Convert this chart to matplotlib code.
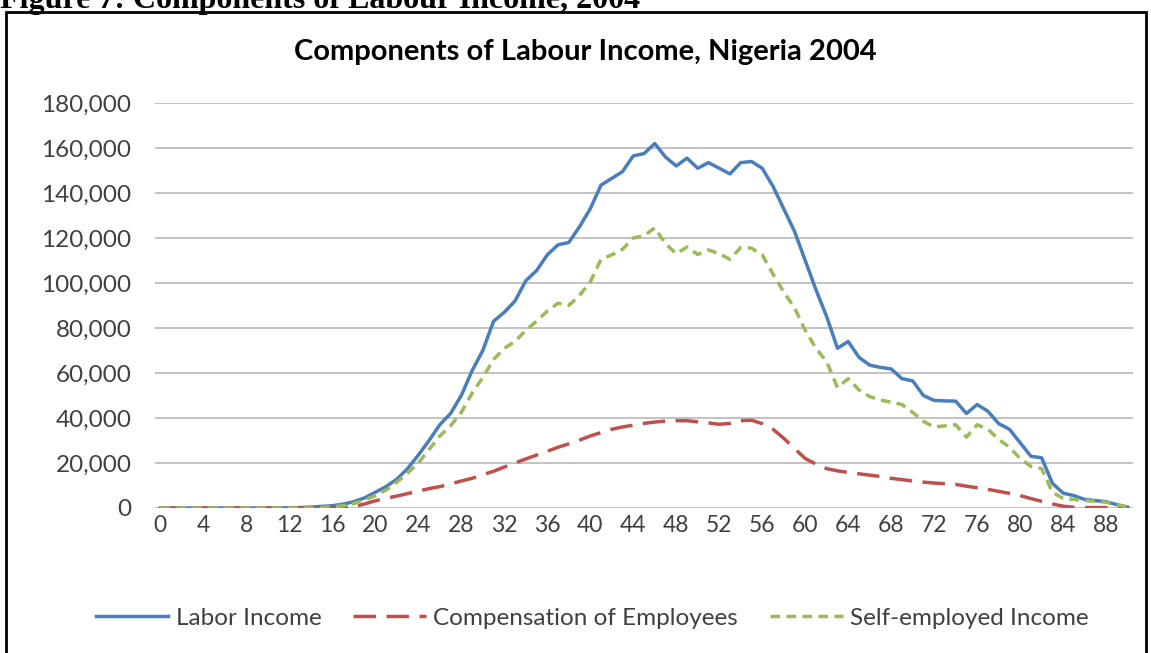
import matplotlib
matplotlib.use("Agg")
from matplotlib import pyplot as plt
from matplotlib.patches import Rectangle

# ages 0..90
ages = list(range(0, 91))

labor_income = [
    0, 0, 0, 0, 0, 0, 0, 0, 0, 0,
    0, 0, 100, 200, 400, 700, 1000, 1700, 2800, 4500,
    7000, 9500, 12800, 17500, 23500, 30000, 37000, 42000, 50000, 61000,
    70000, 83000, 87000, 92000, 101000, 105500, 112500, 117000, 118000, 125000,
    133000, 143500, 146500, 149500, 156500, 157500, 162000, 156000, 152000, 155500,
    151000, 153500, 151000, 148500, 153500, 154000, 151000, 143000, 133000, 123000,
    110000, 97000, 85000, 71000, 74000, 67000, 63500, 62500, 61800, 57500,
    56500, 50000, 47800, 47600, 47500, 42000, 46000, 43000, 37500, 35000,
    29000, 23000, 22300, 11000, 6600, 5500, 3800, 3300, 2800, 1500,
    400,
]

compensation = [
    0, 0, 0, 0, 0, 0, 0, 0, 0, 0,
    0, 0, 0, 0, 0, 0, 0, 100, 500, 1800,
    3200, 4300, 5300, 6400, 7500, 8600, 9500, 10700, 12000, 13200,
    14800, 16300, 18200, 20000, 21800, 23500, 25200, 27000, 28500, 30200,
    32000, 33500, 35000, 36000, 36800, 37600, 38200, 38600, 38800, 38800,
    38300, 37800, 37200, 37600, 38800, 39000, 37500, 35000, 31000, 26500,
    22000, 19500, 17500, 16500, 15800, 15200, 14600, 14000, 13200, 12600,
    12000, 11500, 11100, 10800, 10500, 9700, 9000, 8300, 7400, 6500,
    5500, 4200, 3000, 1800, 800, 300, 200, 200, 150, 100,
    50,
]

self_employed = [
    0, 0, 0, 0, 0, 0, 0, 0, 0, 0,
    0, 0, 0, 0, 0, 200, 500, 1000, 2000, 3500,
    5500, 8000, 11500, 15500, 20000, 26000, 32000, 36500, 42500, 51000,
    58000, 66000, 71000, 74000, 79000, 83000, 87500, 91000, 90000, 94500,
    100500, 110500, 112500, 115000, 120000, 121000, 124500, 117500, 113000, 116000,
    112700, 114700, 113000, 110500, 115800, 115500, 112500, 104000, 96000, 89000,
    79000, 71000, 65000, 53500, 57500, 52500, 49500, 48000, 47000, 46000,
    42500, 38500, 36000, 36500, 37000, 31500, 37000, 35000, 30500, 27000,
    22000, 18500, 17500, 7000, 4300, 3800, 3300, 3000, 2600, 1500,
    400,
]

tick_ages = list(range(0, 89, 4))
y_ticks = list(range(0, 180001, 20000))

chart_font = "Lato"
text_gray = "#404040"

fig = plt.figure(figsize=(11.51, 6.53), dpi=100)
fig.patch.set_facecolor("white")

# caption above the chart, cut off at the top edge as in the source
fig.text(0.0, 1 - 8 / 653, "Figure 7: Components of Labour Income, 2004",
         family="Liberation Serif", weight="bold", fontsize=23,
         ha="left", va="baseline")

# frame around the chart
fig.patches.append(Rectangle((6 / 1151, -0.05), 1140 / 1151, 1 - 12 / 653 + 0.05,
                             transform=fig.transFigure, fill=False,
                             edgecolor="black", linewidth=2))

ax = fig.add_axes([155 / 1151, 1 - 508 / 653, (1133 - 155) / 1151, (508 - 103) / 653])

ax.plot(ages, labor_income, color="#4A7EBB", linewidth=2.5, label="Labor Income")
ax.plot(ages, compensation, color="#C0504D", linewidth=2.5, dashes=(6.5, 3),
        label="Compensation of Employees")
ax.plot(ages, self_employed, color="#9BBB59", linewidth=2.5, dashes=(2.8, 1.8),
        label="Self-employed Income")

ax.set_xlim(-0.5, 90.5)
ax.set_ylim(0, 180000)
ax.set_yticks(y_ticks)
ax.set_yticklabels([f"{v:,}" for v in y_ticks])
ax.set_xticks(tick_ages)
ax.set_xticklabels([str(a) for a in tick_ages])
ax.tick_params(axis="both", length=0, labelcolor=text_gray)
ax.tick_params(axis="y", pad=17, labelsize=17.5)
ax.tick_params(axis="x", pad=5, labelsize=16.5)
for lbl in ax.get_xticklabels() + ax.get_yticklabels():
    lbl.set_family(chart_font)

for side in ["top", "right", "left", "bottom"]:
    ax.spines[side].set_visible(False)
ax.grid(axis="y", color="#BEBEBE", linewidth=1.3)
ax.set_axisbelow(True)

fig.text(585 / 1151, 1 - 52 / 653, "Components of Labour Income, Nigeria 2004",
         family=chart_font, weight="bold", fontsize=21, ha="center", va="center")

leg = fig.legend(loc="center", bbox_to_anchor=(592 / 1151, 1 - 618 / 653), ncol=3,
                 frameon=False, handlelength=3.0, handletextpad=0.3, columnspacing=1.3,
                 prop={"family": chart_font, "size": 17.5})
for t in leg.get_texts():
    t.set_color(text_gray)

fig.savefig("out.png", dpi=100)
